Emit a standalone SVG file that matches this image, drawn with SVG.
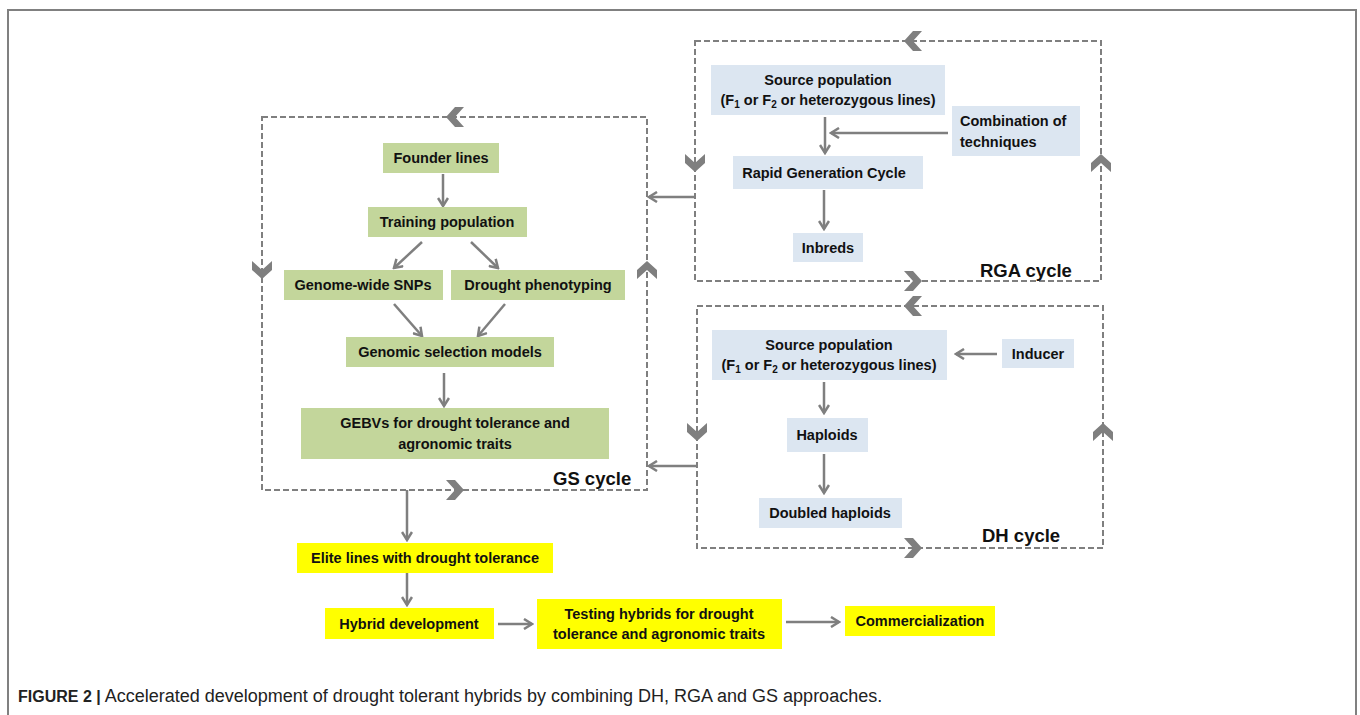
<svg xmlns="http://www.w3.org/2000/svg" width="1360" height="715" viewBox="0 0 1360 715">
<style>
.frame{fill:none;stroke:#808080;stroke-width:2}
.cyc{fill:none;stroke:#7f7f7f;stroke-width:2;stroke-dasharray:6 3}
.chev{fill:#7f7f7f}
.g{fill:#c3d69b}
.b{fill:#dce6f1}
.y{fill:#ffff00}
.t{font-family:"Liberation Sans",Arial,sans-serif;font-weight:bold;font-size:14.5px;fill:#111;text-anchor:middle}
.tl{text-anchor:start}
.lab{font-family:"Liberation Sans",Arial,sans-serif;font-weight:bold;font-size:18.5px;fill:#111}
.ar{fill:none;stroke:#7f7f7f;stroke-width:2.5;marker-end:url(#ah)}
.cap{font-family:"Liberation Sans",Arial,sans-serif;font-size:18px;fill:#222}
</style>
<defs>
<marker id="ah" viewBox="0 0 12 12" refX="10" refY="6" markerWidth="12" markerHeight="12" markerUnits="userSpaceOnUse" orient="auto">
<path d="M2,1 L10,6 L2,11" fill="none" stroke="#7f7f7f" stroke-width="2.5"/>
</marker>
<polygon id="chv" points="-9,-10 0,-10 9,0 0,10 -9,10 0,0"/>
</defs>
<path class="frame" d="M8,716 V10 H1356 V716"/>

<g id="cycles">
<rect class="cyc" x="262" y="117" width="385" height="373"/>
<rect class="cyc" x="695" y="41" width="406" height="240"/>
<rect class="cyc" x="697" y="306" width="406" height="242"/>
<g class="chev">
<use href="#chv" transform="translate(455,117) rotate(180)"/>
<use href="#chv" transform="translate(262,270) rotate(90)"/>
<use href="#chv" transform="translate(647,270) rotate(-90)"/>
<use href="#chv" transform="translate(455,490)"/>
<use href="#chv" transform="translate(913,41) rotate(180)"/>
<use href="#chv" transform="translate(695,163) rotate(90)"/>
<use href="#chv" transform="translate(1101,163) rotate(-90)"/>
<use href="#chv" transform="translate(913,281)"/>
<use href="#chv" transform="translate(913,306) rotate(180)"/>
<use href="#chv" transform="translate(697,432) rotate(90)"/>
<use href="#chv" transform="translate(1103,432) rotate(-90)"/>
<use href="#chv" transform="translate(913,548)"/>
</g>
<text class="lab" x="553" y="485">GS cycle</text>
<text class="lab" x="980" y="277">RGA cycle</text>
<text class="lab" x="982" y="542">DH cycle</text>
</g>

<g id="connectors">
<line class="ar" x1="695" y1="197" x2="649" y2="197"/>
<line class="ar" x1="697" y1="466" x2="649" y2="466"/>
<line class="ar" x1="443" y1="174" x2="443" y2="206"/>
<line class="ar" x1="422" y1="242" x2="394" y2="268"/>
<line class="ar" x1="471" y1="242" x2="498" y2="268"/>
<line class="ar" x1="394" y1="304" x2="422" y2="336"/>
<line class="ar" x1="505" y1="304" x2="478" y2="336"/>
<line class="ar" x1="444" y1="373" x2="444" y2="406"/>
<line class="ar" x1="825" y1="117" x2="825" y2="153"/>
<line class="ar" x1="948" y1="133" x2="831" y2="133"/>
<line class="ar" x1="824" y1="190" x2="824" y2="229"/>
<line class="ar" x1="997" y1="354" x2="956" y2="354"/>
<line class="ar" x1="824" y1="382" x2="824" y2="413"/>
<line class="ar" x1="824" y1="454" x2="824" y2="493"/>
<line class="ar" x1="407" y1="490" x2="407" y2="540"/>
<line class="ar" x1="407" y1="573" x2="407" y2="605"/>
<line class="ar" x1="498" y1="624" x2="532" y2="624"/>
<line class="ar" x1="786" y1="622" x2="839" y2="622"/>
</g>

<g id="founder"><rect class="g" x="383" y="143" width="116" height="30"/><text class="t" x="441" y="163">Founder lines</text></g>
<g id="training"><rect class="g" x="368" y="207" width="159" height="30"/><text class="t" x="447" y="227">Training population</text></g>
<g id="snps"><rect class="g" x="284" y="270" width="159" height="30"/><text class="t" x="363" y="290">Genome-wide SNPs</text></g>
<g id="pheno"><rect class="g" x="451" y="270" width="174" height="30"/><text class="t" x="538" y="290">Drought phenotyping</text></g>
<g id="gsm"><rect class="g" x="346" y="337" width="208" height="30"/><text class="t" x="450" y="357">Genomic selection models</text></g>
<g id="gebv"><rect class="g" x="301" y="408" width="308" height="51"/><text class="t" x="455" y="428">GEBVs for drought tolerance and</text><text class="t" x="455" y="449">agronomic traits</text></g>

<g id="rga-source"><rect class="b" x="711" y="65" width="234" height="50"/><text class="t" x="828" y="85">Source population</text><text class="t" x="828" y="105">(F<tspan font-size="10" dy="3">1</tspan><tspan dy="-3"> or F</tspan><tspan font-size="10" dy="3">2</tspan><tspan dy="-3"> or heterozygous lines)</tspan></text></g>
<g id="rga-combo"><rect class="b" x="952" y="106" width="128" height="50"/><text class="t tl" x="960" y="126">Combination of</text><text class="t tl" x="960" y="147">techniques</text></g>
<g id="rga-rapid"><rect class="b" x="733" y="156" width="190" height="33"/><text class="t" x="824" y="178">Rapid Generation Cycle</text></g>
<g id="rga-inbreds"><rect class="b" x="793" y="233" width="70" height="29"/><text class="t" x="828" y="253">Inbreds</text></g>

<g id="dh-source"><rect class="b" x="712" y="330" width="235" height="50"/><text class="t" x="829" y="350">Source population</text><text class="t" x="829" y="370">(F<tspan font-size="10" dy="3">1</tspan><tspan dy="-3"> or F</tspan><tspan font-size="10" dy="3">2</tspan><tspan dy="-3"> or heterozygous lines)</tspan></text></g>
<g id="dh-inducer"><rect class="b" x="1002" y="339" width="72" height="29"/><text class="t" x="1038" y="359">Inducer</text></g>
<g id="dh-haploids"><rect class="b" x="787" y="418" width="81" height="34"/><text class="t" x="827" y="440">Haploids</text></g>
<g id="dh-doubled"><rect class="b" x="759" y="498" width="143" height="30"/><text class="t" x="830" y="518">Doubled haploids</text></g>

<g id="elite"><rect class="y" x="297" y="543" width="256" height="30"/><text class="t" x="425" y="563">Elite lines with drought tolerance</text></g>
<g id="hybrid"><rect class="y" x="325" y="608" width="169" height="31"/><text class="t" x="409" y="629">Hybrid development</text></g>
<g id="testing"><rect class="y" x="537" y="599" width="245" height="50"/><text class="t" x="659" y="619">Testing hybrids for drought</text><text class="t" x="659" y="639">tolerance and agronomic traits</text></g>
<g id="commercial"><rect class="y" x="845" y="606" width="150" height="30"/><text class="t" x="920" y="626">Commercialization</text></g>

<text class="cap" x="18" y="702"><tspan font-weight="bold" font-size="16px">FIGURE 2 |</tspan> Accelerated development of drought tolerant hybrids by combining DH, RGA and GS approaches.</text>
</svg>
